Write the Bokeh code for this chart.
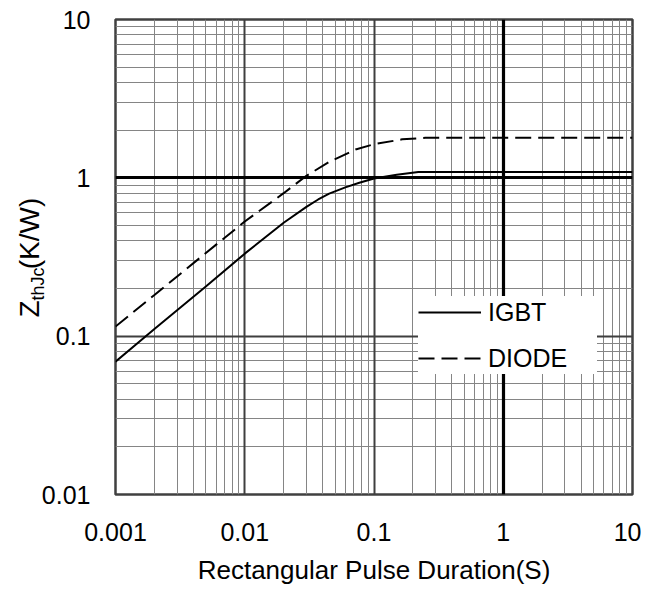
from bokeh.plotting import figure
from bokeh.models import FixedTicker, Grid, Legend, LegendItem, Title
from bokeh.embed import file_html
from bokeh.resources import INLINE

# ---- data ----
igbt_t = [0.001, 0.002, 0.005, 0.01, 0.02, 0.03, 0.037, 0.045, 0.06, 0.077,
          0.1, 0.15, 0.22, 0.3, 0.5, 1, 2, 5, 10]
igbt_zth = [0.069, 0.111, 0.206, 0.332, 0.52, 0.655, 0.73, 0.795, 0.87, 0.93,
            0.99, 1.045, 1.09, 1.09, 1.09, 1.09, 1.09, 1.09, 1.09]
diode_t = [0.001, 0.002, 0.005, 0.01, 0.02, 0.03, 0.045, 0.072, 0.1, 0.165,
           0.25, 0.5, 1, 2, 5, 10]
diode_zth = [0.115, 0.182, 0.335, 0.53, 0.80, 1.03, 1.26, 1.51, 1.63, 1.75,
             1.79, 1.79, 1.79, 1.79, 1.79, 1.79]

series_names = ["IGBT", "DIODE"]
x_ticks = [0.001, 0.01, 0.1, 1, 10]
x_tick_labels = ["0.001", "0.01", "0.1", "1", "10"]
y_ticks = [0.01, 0.1, 1, 10]
y_tick_labels = ["0.01", "0.1", "1", "10"]
x_title = "Rectangular Pulse Duration(S)"
y_title_parts = ["Z", "thJc", "(K/W)"]

FONT = "Liberation Sans"
NBSP = "\u00a0"

minor_x = [m * 10.0 ** e for e in range(-3, 1) for m in range(2, 10)]
minor_y = [m * 10.0 ** e for e in range(-2, 1) for m in range(2, 10)]

p = figure(width=641, height=592, x_axis_type="log", y_axis_type="log",
           x_range=(x_ticks[0], x_ticks[-1]), y_range=(y_ticks[0], y_ticks[-1]),
           output_backend="svg", toolbar_location=None,
           min_border_left=115, min_border_right=9,
           min_border_top=19, min_border_bottom=98)

p.background_fill_color = "white"
p.border_fill_color = "white"
p.outline_line_color = "#404040"
p.outline_line_width = 2.5
p.outline_line_alpha = 1.0

# axes
p.xaxis.ticker = FixedTicker(ticks=x_ticks)
p.xaxis.major_label_overrides = dict(zip(x_ticks, x_tick_labels))
p.yaxis.ticker = FixedTicker(ticks=y_ticks)
p.yaxis.major_label_overrides = dict(zip(y_ticks, y_tick_labels))
for ax in p.xaxis + p.yaxis:
    ax.axis_line_color = None
    ax.major_tick_line_color = None
    ax.minor_tick_line_color = None
    ax.major_tick_out = 0
    ax.major_tick_in = 0
    ax.minor_tick_out = 0
    ax.minor_tick_in = 0
    ax.major_label_text_font = FONT
    ax.major_label_text_font_size = "25px"
    ax.major_label_text_color = "black"
p.xaxis.major_label_standoff = 28
p.yaxis.major_label_standoff = 25

p.xaxis.axis_label = x_title
p.xaxis.axis_label_standoff = 11
p.xaxis.axis_label_text_font = FONT
p.xaxis.axis_label_text_font_size = "26px"
p.xaxis.axis_label_text_font_style = "normal"
p.xaxis.axis_label_text_color = "black"

# grids
p.xgrid.visible = False
p.ygrid.visible = False
grid_specs = [
    (0, minor_x, "#858585", 1),
    (1, minor_y, "#858585", 1),
    (0, [0.01, 0.1], "#3f3f3f", 2),
    (1, [0.1], "#3f3f3f", 2),
    (0, [1], "#000000", 3.2),
    (1, [1], "#000000", 3.2),
]
for dim, ticks, color, width in grid_specs:
    p.add_layout(Grid(dimension=dim, ticker=FixedTicker(ticks=ticks),
                      grid_line_color=color, grid_line_width=width))

# curves
r_igbt = p.line(igbt_t, igbt_zth, line_color="black", line_width=2)
r_diode = p.line(diode_t, diode_zth, line_color="black", line_width=2,
                 line_dash="16 7")

legend = Legend(items=[LegendItem(label=series_names[0], renderers=[r_igbt]),
                       LegendItem(label=series_names[1], renderers=[r_diode])],
                location=(303, 120), margin=0, padding=14, spacing=14,
                glyph_width=63, glyph_height=32, label_height=32,
                label_width=109, label_standoff=7,
                label_text_font=FONT, label_text_font_size="25px",
                label_text_color="black",
                background_fill_color="white", background_fill_alpha=1.0,
                border_line_color=None)
p.add_layout(legend)

# y-axis title: Z with subscript thJc, then (K/W)
t_sub = Title(text=y_title_parts[1], align="left", offset=194, standoff=-19,
              text_font=FONT, text_font_size="18px",
              text_font_style="normal", text_color="black")
t_main = Title(text=y_title_parts[0] + NBSP * 4 + y_title_parts[2],
               align="left", offset=177, standoff=-19,
               text_font=FONT, text_font_size="28px",
               text_font_style="normal", text_color="black")
p.add_layout(t_sub, "left")
p.add_layout(t_main, "left")

open("out.html", "w").write(file_html(p, INLINE))
